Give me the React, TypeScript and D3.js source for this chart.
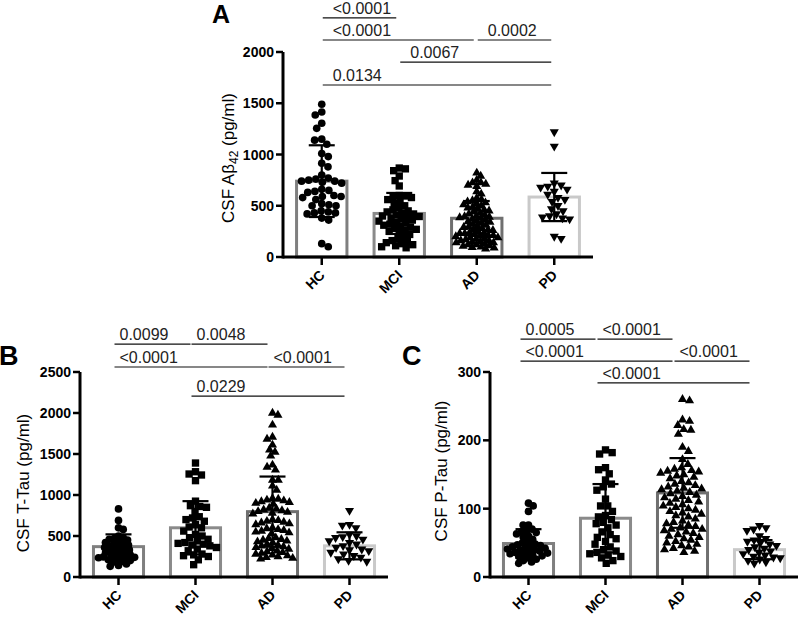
import React from 'react';
import * as d3 from 'd3';

const categories = ['HC', 'MCI', 'AD', 'PD'];
const barColors = ['#7f7f7f', '#8a8a8a', '#6f6f6f', '#c9c9c9'];

// ---------- Panel A: CSF Abeta42 ----------
const aHC = [1490, 1415, 1385, 1305, 1255, 1150, 1140, 1100, 1010, 980, 915, 880, 800, 770, 760, 750, 740, 740, 730, 720, 660, 650, 640, 630, 600, 590, 590, 580, 560, 520, 510, 500, 500, 450, 440, 430, 430, 420, 380, 360, 130, 100];
const aMCI = [868, 860, 842, 790, 745, 693, 600, 595, 590, 580, 560, 540, 520, 500, 480, 460, 450, 440, 430, 420, 410, 400, 395, 390, 380, 370, 360, 350, 340, 330, 320, 310, 300, 290, 280, 270, 260, 250, 240, 220, 200, 180, 160, 150, 140, 130, 120, 110, 100, 90];
const aAD = [820, 790, 751, 725, 725, 712, 702, 690, 637, 615, 575, 560, 550, 540, 530, 520, 510, 500, 490, 480, 470, 460, 450, 440, 430, 420, 410, 400, 395, 390, 385, 380, 370, 360, 350, 345, 340, 330, 320, 310, 300, 295, 290, 280, 270, 265, 260, 250, 240, 235, 230, 230, 220, 210, 210, 205, 200, 190, 190, 180, 175, 170, 160, 160, 150, 145, 140, 140, 130, 120, 120, 110, 105, 100, 95, 90, 80];
const aPD = [1220, 1080, 720, 700, 690, 680, 660, 640, 610, 580, 560, 540, 500, 470, 450, 420, 400, 390, 380, 370, 200, 180];
const aMeans = [740, 425, 378, 585];
const aSD = [350, 200, 168, 235];
const aTicks = [0, 500, 1000, 1500, 2000];
const aBrackets = [
  { from: 0, to: 1, level: 2332, text: '<0.0001' },
  { from: 0, to: 2, level: 2117, text: '<0.0001' },
  { from: 2, to: 3, level: 2117, text: '0.0002' },
  { from: 1, to: 3, level: 1902, text: '0.0067' },
  { from: 0, to: 3, level: 1678, text: '0.0134' },
];

// ---------- Panel B: CSF T-Tau ----------
const bHC = [830, 690, 600, 580, 500, 480, 470, 460, 450, 430, 420, 410, 400, 390, 380, 370, 360, 350, 340, 330, 320, 310, 300, 290, 280, 270, 260, 250, 245, 240, 235, 230, 220, 210, 200, 190, 180, 160, 140, 130];
const bMCI = [1390, 1284, 1256, 1244, 1175, 925, 870, 860, 850, 800, 735, 720, 700, 680, 640, 610, 600, 560, 520, 500, 480, 460, 440, 420, 410, 400, 390, 380, 360, 340, 320, 280, 270, 260, 250, 210, 150];
const bAD = [2000, 1975, 1854, 1707, 1683, 1610, 1549, 1524, 1476, 1366, 1341, 1305, 1183, 1183, 1110, 1061, 960, 950, 940, 930, 920, 910, 900, 890, 840, 830, 820, 810, 800, 790, 780, 770, 700, 690, 680, 670, 660, 650, 640, 600, 590, 580, 570, 560, 550, 540, 530, 480, 470, 460, 450, 440, 430, 420, 400, 390, 380, 370, 360, 350, 340, 320, 310, 300, 290, 280, 270, 260, 250, 240, 230, 220];
const bPD = [810, 640, 630, 600, 520, 500, 490, 480, 460, 440, 420, 400, 380, 360, 340, 330, 320, 300, 280, 260, 240, 220, 200, 190];
const bMeans = [370, 600, 797, 380];
const bSD = [150, 325, 428, 165];
const bTicks = [0, 500, 1000, 1500, 2000, 2500];
const bBrackets = [
  { from: 0, to: 1, level: 2841, text: '0.0099' },
  { from: 1, to: 2, level: 2841, text: '0.0048' },
  { from: 0, to: 2, level: 2561, text: '<0.0001' },
  { from: 2, to: 3, level: 2561, text: '<0.0001' },
  { from: 1, to: 3, level: 2207, text: '0.0229' },
];

// ---------- Panel C: CSF P-Tau ----------
const cHC = [108, 104, 96, 76, 76, 70, 68, 66, 65, 63, 60, 58, 55, 52, 50, 48, 47, 46, 45, 44, 43, 42, 41, 40, 39, 38, 37, 36, 35, 34, 33, 32, 31, 30, 28, 26, 24, 22, 20];
const cMCI = [186, 182, 180, 160, 157, 151, 142, 136, 132, 127, 114, 104, 104, 96, 90, 88, 84, 80, 78, 76, 72, 66, 62, 58, 56, 52, 48, 44, 40, 38, 36, 34, 32, 30, 28, 24, 20];
const cAD = [260, 258, 230, 228, 222, 216, 215, 209, 190, 184, 172, 165, 160, 158, 156, 155, 154, 152, 150, 148, 146, 144, 140, 138, 136, 134, 132, 130, 129, 128, 126, 124, 122, 120, 118, 116, 114, 112, 110, 108, 106, 104, 102, 100, 98, 96, 94, 92, 90, 88, 85, 82, 80, 78, 76, 74, 72, 70, 70, 68, 66, 64, 62, 60, 58, 56, 54, 52, 50, 48, 46, 44, 42, 40, 38, 36];
const cPD = [75, 72, 70, 68, 60, 56, 54, 52, 50, 48, 46, 44, 42, 40, 38, 36, 34, 32, 30, 29, 28, 26, 24, 22, 20];
const cMeans = [49, 86, 123, 40];
const cSD = [21, 50, 51, 14];
const cTicks = [0, 100, 200, 300];
const cBrackets = [
  { from: 0, to: 1, level: 348, text: '0.0005' },
  { from: 1, to: 2, level: 348, text: '<0.0001' },
  { from: 0, to: 2, level: 316, text: '<0.0001' },
  { from: 2, to: 3, level: 316, text: '<0.0001' },
  { from: 1, to: 3, level: 284, text: '<0.0001' },
];

const symbols = [d3.symbolCircle, d3.symbolSquare, d3.symbolTriangle, d3.symbolTriangle];
const symbolSizes = [46, 54, 36, 36];
const symbolRot = [0, 0, 0, 180];

function swarmOnce(ys: number[], d: number) {
  const order = ys.map((_, i) => i).sort((a, b) => ys[a] - ys[b]);
  const xs = new Array(ys.length).fill(0);
  const placed: number[] = [];
  let flip = 1;
  for (const i of order) {
    const cands = [0];
    for (const j of placed) {
      const dy = Math.abs(ys[j] - ys[i]);
      if (dy < d) {
        const dx = Math.sqrt(d * d - dy * dy);
        cands.push(xs[j] + dx, xs[j] - dx);
      }
    }
    cands.sort((a, b) => Math.abs(a) - Math.abs(b) || flip * (a - b));
    flip = -flip;
    for (const c of cands) {
      if (placed.every((j) => (xs[j] - c) ** 2 + (ys[j] - ys[i]) ** 2 >= d * d - 0.01)) {
        xs[i] = c;
        break;
      }
    }
    placed.push(i);
  }
  return xs;
}

// beeswarm whose spacing shrinks until the group fits inside its bar
function swarm(values: number[], y: (v: number) => number, dMax: number, maxHalf: number) {
  const ys = values.map(y);
  let d = dMax;
  let xs = swarmOnce(ys, d);
  while (d > 2.5 && d3.max(xs, (v) => Math.abs(v))! > maxHalf) {
    d -= 0.2;
    xs = swarmOnce(ys, d);
  }
  return ys.map((yy, i) => ({ x: xs[i], y: yy }));
}

type Bracket = { from: number; to: number; level: number; text: string };

interface PanelProps {
  letter: string;
  letterPos: [number, number];
  letterSize: number;
  groups: number[][];
  means: number[];
  sds: number[];
  ticks: number[];
  brackets: Bracket[];
  xRange: [number, number];
  yRange: [number, number];
  titlePos: [number, number];
  title: React.ReactNode;
  bracketOffsets: [number, number, number];
}

function Panel(p: PanelProps) {
  const x = d3.scaleBand<string>().domain(categories).range(p.xRange).paddingInner(0).paddingOuter(0);
  const y = d3.scaleLinear().domain([0, p.ticks[p.ticks.length - 1]]).range(p.yRange);
  const step = x.step();
  const bw = step * 0.65;
  const cx = (i: number) => (x(categories[i]) as number) + step / 2;
  const y0 = y(0);
  const font = 'Arial, "Liberation Sans", sans-serif';
  return (
    <g>
      <text x={p.letterPos[0]} y={p.letterPos[1]} fontFamily={font} fontWeight="bold" fontSize={p.letterSize}>
        {p.letter}
      </text>
      {/* bars */}
      {categories.map((c, i) => (
        <rect
          key={'bar' + c}
          x={cx(i) - bw / 2}
          y={y(p.means[i])}
          width={bw}
          height={y0 - y(p.means[i])}
          fill="#fff"
          stroke={barColors[i]}
          strokeWidth={3}
        />
      ))}
      {/* points */}
      {p.groups.map((vals, i) => {
        const pts = swarm(vals, (v) => y(v), 7.2, bw / 2 - 3);
        const path = d3.symbol().type(symbols[i]).size(symbolSizes[i])() as string;
        return pts.map((pt, k) => (
          <path
            key={'pt' + i + '-' + k}
            d={path}
            transform={`translate(${cx(i) + pt.x},${pt.y}) rotate(${symbolRot[i]})`}
            fill="#000"
          />
        ));
      })}
      {/* error bars */}
      {categories.map((c, i) => {
        const hi = y(p.means[i] + p.sds[i]);
        const lo = y(p.means[i] - p.sds[i]);
        const m = cx(i);
        return (
          <g key={'err' + c} stroke="#000" strokeWidth={2.2}>
            <line x1={m} x2={m} y1={hi} y2={lo} />
            <line x1={m - 13} x2={m + 13} y1={hi} y2={hi} />
            <line x1={m - 13} x2={m + 13} y1={lo} y2={lo} />
          </g>
        );
      })}
      {/* axes */}
      <line x1={p.xRange[0]} x2={p.xRange[0]} y1={y0 + 1.5} y2={y(p.ticks[p.ticks.length - 1])} stroke="#000" strokeWidth={3} />
      <line x1={p.xRange[0]} x2={p.xRange[1]} y1={y0} y2={y0} stroke="#000" strokeWidth={3} />
      {p.ticks.map((t) => (
        <g key={'yt' + t}>
          <line x1={p.xRange[0] - 7} x2={p.xRange[0]} y1={y(t)} y2={y(t)} stroke="#000" strokeWidth={2.5} />
          <text
            x={p.xRange[0] - 9}
            y={y(t)}
            dy="0.36em"
            textAnchor="end"
            fontFamily={font}
            fontWeight="bold"
            fontSize={14}
          >
            {t}
          </text>
        </g>
      ))}
      {categories.map((c, i) => (
        <g key={'xt' + c}>
          <line x1={cx(i)} x2={cx(i)} y1={y0} y2={y0 + 8} stroke="#000" strokeWidth={2.5} />
          <text
            transform={`translate(${cx(i) + 4},${y0 + 19}) rotate(-45)`}
            textAnchor="end"
            fontFamily={font}
            fontWeight="bold"
            fontSize={14}
          >
            {c}
          </text>
        </g>
      ))}
      <text
        transform={`translate(${p.titlePos[0]},${p.titlePos[1]}) rotate(-90)`}
        textAnchor="middle"
        fontFamily={font}
        fontSize={17}
        fill="#000"
      >
        {p.title}
      </text>
      {/* significance brackets */}
      {p.brackets.map((b, k) => {
        const x1 = cx(b.from) + p.bracketOffsets[0];
        const x2 = cx(b.to) + p.bracketOffsets[1];
        const yy = y(b.level);
        return (
          <g key={'br' + k}>
            <line x1={x1} x2={x2} y1={yy} y2={yy} stroke="#111" strokeWidth={1.2} />
            <text x={x1 + p.bracketOffsets[2]} y={yy - 4} fontFamily={font} fontSize={16} fill="#222">
              {b.text}
            </text>
          </g>
        );
      })}
    </g>
  );
}

export default function App() {
  return (
    <svg
      width={800}
      height={617}
      style={{ position: 'absolute', left: 0, top: 0, display: 'block', background: '#fff' }}
    >
      <rect x={0} y={0} width={800} height={617} fill="#fff" />
      <Panel
        letter="A"
        letterPos={[212, 23]}
        letterSize={25}
        groups={[aHC, aMCI, aAD, aPD]}
        means={aMeans}
        sds={aSD}
        ticks={aTicks}
        brackets={aBrackets}
        xRange={[283, 593]}
        yRange={[257, 52]}
        titlePos={[234, 158]}
        bracketOffsets={[1, -3, 10]}
        title={
          <>
            <tspan>CSF A</tspan>
            <tspan>β</tspan>
            <tspan dy={4} fontSize={12}>42</tspan>
            <tspan dy={-4}> (pg/ml)</tspan>
          </>
        }
      />
      <Panel
        letter="B"
        letterPos={[-1, 365]}
        letterSize={27}
        groups={[bHC, bMCI, bAD, bPD]}
        means={bMeans}
        sds={bSD}
        ticks={bTicks}
        brackets={bBrackets}
        xRange={[80, 388]}
        yRange={[577, 372]}
        titlePos={[29, 483]}
        bracketOffsets={[-4, -5, 5]}
        title="CSF T-Tau (pg/ml)"
      />
      <Panel
        letter="C"
        letterPos={[402, 365]}
        letterSize={27}
        groups={[cHC, cMCI, cAD, cPD]}
        means={cMeans}
        sds={cSD}
        ticks={cTicks}
        brackets={cBrackets}
        xRange={[490, 798]}
        yRange={[577, 372]}
        titlePos={[447, 471]}
        bracketOffsets={[-8, -10, 5]}
        title="CSF P-Tau (pg/ml)"
      />
    </svg>
  );
}
